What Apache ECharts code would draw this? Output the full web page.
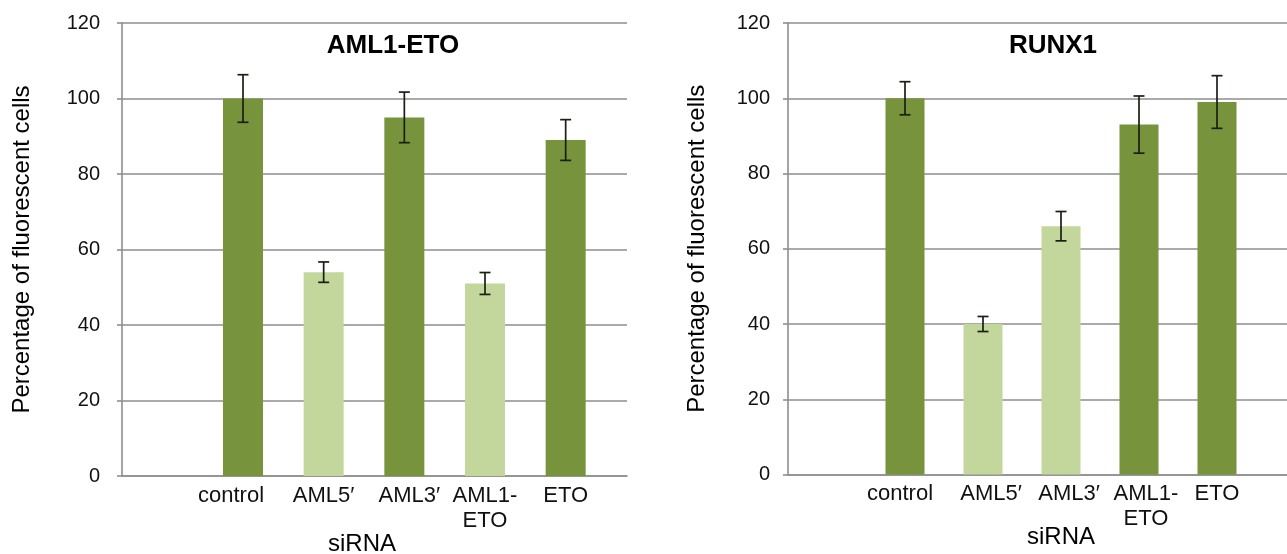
<!DOCTYPE html>
<html>
<head>
<meta charset="utf-8">
<script src="https://cdn.jsdelivr.net/npm/echarts@6/dist/echarts.min.js"></script>
<style>
  html, body { margin: 0; padding: 0; background: #fff; }
  #chart { width: 1287px; height: 554px; }
</style>
</head>
<body>
<div id="chart"></div>
<script>
// siRNA groups, same order in both panels
const categories = ['control', 'AML5′', 'AML3′', 'AML1-ETO', 'ETO']
const yTicks = [0, 20, 40, 60, 80, 100, 120]

// AML1-ETO panel (percentage of fluorescent cells, mean and error)
const amlEtoValues = [100, 54, 95, 51, 89]
const amlEtoErrors = [6.3, 2.7, 6.7, 2.9, 5.4]
const amlEtoLight = ['AML5′', 'AML1-ETO']

// RUNX1 panel
const runx1Values = [100, 40, 66, 93, 99]
const runx1Errors = [4.4, 2.0, 3.9, 7.6, 7.0]
const runx1Light = ['AML5′', 'AML3′']

const FONT = 'Liberation Sans, Arial, Helvetica, sans-serif'
const DARK = '#77933c'
const LIGHT = '#c3d69b'
const GRIDLINE = '#8e8e8e'

// the original's tick labels are not quite centred under the bars
const leftNudge = { control: -12, 'AML3′': 5 }
const rightNudge = { control: -5, 'AML5′': 8, 'AML3′': 8, 'AML1-ETO': 7 }

const chart = echarts.init(document.getElementById('chart'))

// first slot on the category axis is left empty, like the original
const slots = [''].concat(categories)

function slotData(nudge) {
  return slots.map(name => {
    const d = nudge[name] || 0
    if (!d) return name
    const pad = d < 0 ? [0, -2 * d, 0, 0] : [0, 0, 0, 2 * d]
    return { value: name, textStyle: { padding: pad } }
  })
}

function errorData(values, errors) {
  return values.map((v, i) => [i + 1, v - errors[i], v + errors[i]])
}

function renderError(params, api) {
  const x = api.value(0)
  const lo = api.coord([x, api.value(1)])
  const hi = api.coord([x, api.value(2)])
  const half = 5.5
  const style = { stroke: '#1a1f14', lineWidth: 1.7 }
  return {
    type: 'group',
    children: [
      { type: 'line', shape: { x1: lo[0], y1: lo[1], x2: hi[0], y2: hi[1] }, style },
      { type: 'line', shape: { x1: lo[0] - half, y1: lo[1], x2: lo[0] + half, y2: lo[1] }, style },
      { type: 'line', shape: { x1: hi[0] - half, y1: hi[1], x2: hi[0] + half, y2: hi[1] }, style }
    ]
  }
}

// grid 0/1: left panel frame + bars, grid 2/3: right panel frame + bars
const grids = [
  { left: 122, width: 505, top: 23, height: 453 },
  { left: 122, width: 484, top: 23, height: 453 },
  { left: 788, width: 499, top: 23, height: 451.5 },
  { left: 788, width: 468, top: 23, height: 451.5 }
]

function frameX(gridIndex) {
  return {
    type: 'value', gridIndex, min: 0, max: 1,
    axisLine: { show: true, lineStyle: { color: GRIDLINE, width: 1.6 } },
    axisTick: { show: false }, axisLabel: { show: false }, splitLine: { show: false }
  }
}

function frameY(gridIndex, labelMargin, nameGap) {
  return {
    type: 'value', gridIndex, min: 0, max: 120, interval: 20,
    name: 'Percentage of fluorescent cells',
    nameLocation: 'middle', nameGap,
    nameTextStyle: { fontFamily: FONT, fontSize: 24, color: '#000' },
    axisLine: { show: true, lineStyle: { color: GRIDLINE, width: 1.6 } },
    axisTick: { show: true, length: 5, lineStyle: { color: GRIDLINE, width: 1.6 } },
    axisLabel: {
      margin: labelMargin, fontFamily: FONT, fontSize: 20, color: '#111',
      formatter: v => yTicks.indexOf(v) >= 0 ? String(v) : ''
    },
    splitLine: { show: true, lineStyle: { color: GRIDLINE, width: 1.6 } }
  }
}

function barX(gridIndex, nudge) {
  return {
    type: 'category', gridIndex, data: slotData(nudge),
    axisLine: { show: false }, axisTick: { show: false },
    axisLabel: {
      margin: 7, interval: 0, fontFamily: FONT, fontSize: 22, color: '#111', lineHeight: 25,
      formatter: v => v.replace('-', '-\n')
    }
  }
}

function barY(gridIndex) {
  return { type: 'value', gridIndex, min: 0, max: 120, show: false, splitLine: { show: false } }
}

function barSeries(axisIndex, values, lightSet, width) {
  return {
    type: 'bar', xAxisIndex: axisIndex, yAxisIndex: axisIndex,
    barWidth: width,
    data: [null].concat(values),
    itemStyle: {
      color: p => lightSet.indexOf(slots[p.dataIndex]) >= 0 ? LIGHT : DARK
    },
    silent: true, z: 2
  }
}

function errSeries(axisIndex, values, errors) {
  return {
    type: 'custom', xAxisIndex: axisIndex, yAxisIndex: axisIndex,
    renderItem: renderError,
    data: errorData(values, errors),
    encode: { x: 0, y: [1, 2] },
    silent: true, z: 3
  }
}

function text(str, x, y, size, bold) {
  return {
    type: 'text', x, y,
    style: {
      text: str, fill: '#000', font: (bold ? 'bold ' : '') + size + 'px ' + FONT,
      textAlign: 'center', textVerticalAlign: 'middle'
    }
  }
}

chart.setOption({
  animation: false,
  backgroundColor: '#fff',
  grid: grids,
  xAxis: [frameX(0), barX(1, leftNudge), frameX(2), barX(3, rightNudge)],
  yAxis: [frameY(0, 22, 88), barY(1), frameY(2, 18, 79), barY(3)],
  series: [
    barSeries(1, amlEtoValues, amlEtoLight, 40),
    errSeries(1, amlEtoValues, amlEtoErrors),
    barSeries(3, runx1Values, runx1Light, 39),
    errSeries(3, runx1Values, runx1Errors)
  ],
  graphic: [
    text('AML1-ETO', 393, 46, 26, true),
    text('RUNX1', 1053, 46, 26, true),
    text('siRNA', 362, 544, 24, false),
    text('siRNA', 1061, 537, 24, false)
  ]
})
</script>
</body>
</html>
